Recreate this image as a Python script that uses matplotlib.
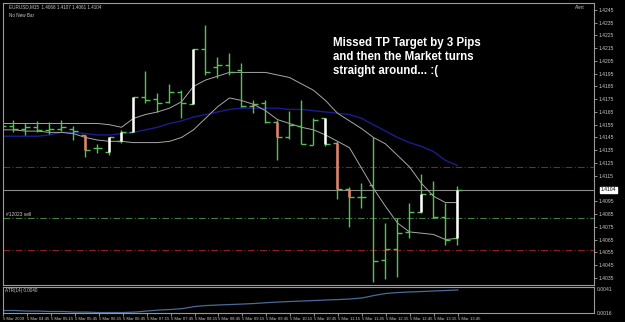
import matplotlib
matplotlib.use("Agg")
import matplotlib.pyplot as plt
import numpy as np

plt.rcParams['font.family'] = ['Liberation Sans', 'DejaVu Sans']

# EURUSD M15, 5 Mar 2009, bars from 04:15 to 13:45
times = ['04:15', '04:30', '04:45', '05:00', '05:15', '05:30', '05:45', '06:00',
         '06:15', '06:30', '06:45', '07:00', '07:15', '07:30', '07:45', '08:00',
         '08:15', '08:30', '08:45', '09:00', '09:15', '09:30', '09:45', '10:00',
         '10:15', '10:30', '10:45', '11:00', '11:15', '11:30', '11:45', '12:00',
         '12:15', '12:30', '12:45', '13:00', '13:15', '13:30', '13:45']

opens = [1.4152, 1.4154, 1.4152, 1.4153, 1.4151, 1.4152, 1.4152, 1.4147, 1.4137, 1.4134,
         1.4142, 1.4149, 1.4177, 1.4175, 1.4173, 1.4181, 1.4171, 1.4214, 1.4200, 1.4202,
         1.4198, 1.4170, 1.4172, 1.4157, 1.4145, 1.4154, 1.4139, 1.4160, 1.4141, 1.4105,
         1.4098, 1.4108, 1.4049, 1.4058, 1.4071, 1.4087, 1.4101, 1.4083, 1.4066]
highs = [1.4159, 1.4159, 1.4156, 1.4158, 1.4157, 1.4159, 1.4154, 1.4147, 1.4140, 1.4145,
         1.4151, 1.4177, 1.4197, 1.4180, 1.4187, 1.4182, 1.4214, 1.4233, 1.4208, 1.4211,
         1.4203, 1.4174, 1.4174, 1.4159, 1.4166, 1.4174, 1.4160, 1.4160, 1.4142, 1.4106,
         1.4109, 1.4145, 1.4078, 1.4082, 1.4094, 1.4116, 1.4111, 1.4094, 1.4107]
lows = [1.4148, 1.4149, 1.4147, 1.4149, 1.4148, 1.4150, 1.4143, 1.4130, 1.4133, 1.4131,
        1.4141, 1.4149, 1.4172, 1.4165, 1.4172, 1.4160, 1.4171, 1.4194, 1.4192, 1.4194,
        1.4169, 1.4164, 1.4156, 1.4127, 1.4144, 1.4140, 1.4139, 1.4138, 1.4097, 1.4075,
        1.4090, 1.4032, 1.4034, 1.4036, 1.4066, 1.4086, 1.4082, 1.4061, 1.4061]
closes = [1.4154, 1.4152, 1.4153, 1.4151, 1.4152, 1.4153, 1.4150, 1.4135, 1.4137, 1.4145,
          1.4149, 1.4177, 1.4174, 1.4172, 1.4181, 1.4172, 1.4214, 1.4196, 1.4202, 1.4196,
          1.4170, 1.4171, 1.4157, 1.4145, 1.4155, 1.4140, 1.4159, 1.4140, 1.4105, 1.4098,
          1.4098, 1.4048, 1.4058, 1.4070, 1.4087, 1.4101, 1.4083, 1.4065, 1.4104]
# highlighted bars: w = white body, r = salmon body, g = plain
marks = list('gggggggrgwwwggggwggggrgrgggwrrgggggwggw')

upper_band = [1.4156, 1.4156, 1.4156, 1.4156, 1.4156, 1.4156, 1.4156, 1.4156, 1.4156, 1.4155,
              1.4153, 1.4160, 1.4163, 1.4165, 1.4168, 1.4173, 1.4185, 1.4190, 1.4193, 1.4196,
              1.4196, 1.4196, 1.4196, 1.4194, 1.4192, 1.4187, 1.4182, 1.4174, 1.4164, 1.4158,
              1.4152, 1.4145, 1.4140, 1.4131, 1.4122, 1.4109, 1.4099, 1.4094, 1.4094]
lower_band = [1.4151, 1.4151, 1.4150, 1.4150, 1.4149, 1.4149, 1.4148, 1.4145, 1.4143, 1.4142,
              1.4142, 1.4141, 1.4141, 1.4141, 1.4142, 1.4145, 1.4151, 1.4160, 1.4169, 1.4176,
              1.4174, 1.4171, 1.4166, 1.4159, 1.4156, 1.4153, 1.4151, 1.4147, 1.4142, 1.4137,
              1.4121, 1.4105, 1.4091, 1.4078, 1.4071, 1.4070, 1.4069, 1.4065, 1.4066]
ma_blue = [1.4146, 1.4146, 1.4146, 1.4146, 1.4147, 1.4149, 1.4149, 1.4148, 1.4147, 1.4147,
           1.4148, 1.4149, 1.4151, 1.4153, 1.4156, 1.4158, 1.4161, 1.4163, 1.4165, 1.4167,
           1.4168, 1.4168, 1.4168, 1.4168, 1.4167, 1.4167, 1.4166, 1.4165, 1.4164, 1.4163,
           1.4160, 1.4155, 1.4150, 1.4145, 1.4141, 1.4138, 1.4134, 1.4127, 1.4123]
atr = [0.00182, 0.00182, 0.00176, 0.00176, 0.00171, 0.00171, 0.00165, 0.00165, 0.00160, 0.00160,
       0.00160, 0.00165, 0.00176, 0.00187, 0.00193, 0.00203, 0.00225, 0.00236, 0.00242, 0.00247,
       0.00252, 0.00258, 0.00267, 0.00274, 0.00280, 0.00285, 0.00290, 0.00296, 0.00301, 0.00307,
       0.00318, 0.00345, 0.00367, 0.00377, 0.00383, 0.00388, 0.00394, 0.00399, 0.00405]

tp_line = 1.4122
sl_line = 1.4057
entry_line = 1.4082
price_now = 1.4104
# the 1.4105 label sits under the current price box, so it is left out
price_ticks = [round(p, 4) for p in np.arange(1.4035, 1.42451, 0.001) if abs(p - 1.4105) > 1e-6]

bg = 'black'
fg = '#c8c8c8'
green = '#55c255'

fig = plt.figure(figsize=(6.25, 3.22), dpi=100, facecolor=bg)
ax = fig.add_axes([3 / 625, 37 / 322, 591 / 625, 282 / 322], facecolor=bg)
ax2 = fig.add_axes([3 / 625, 9 / 322, 591 / 625, 26 / 322], facecolor=bg)

x = np.arange(len(times))

# levels
ax.axhline(tp_line, color='#8c2020', lw=0.8, ls=(0, (6, 2, 1, 2)))
ax.axhline(sl_line, color='#8c2020', lw=0.8, ls=(0, (6, 2, 1, 2)))
ax.axhline(entry_line, color='#3f7f3f', lw=0.8, ls=(0, (6, 2, 1, 2)))
ax.axhline(price_now, color='#8a8a8a', lw=0.8)
ax.text(0.4, entry_line + 0.0001, '#12023 sell', color=fg, fontsize=3.5, va='bottom')

# bands and moving average
ax.plot(x, ma_blue, color='#1c1c90', lw=1.0)
ax.plot(x, upper_band, color='#a8a8a8', lw=0.7)
ax.plot(x, lower_band, color='#a8a8a8', lw=0.7)

# OHLC bars
ax.vlines(x, lows, highs, color=green, lw=1.0)
ax.hlines(opens, x - 0.38, x, color=green, lw=1.0)
ax.hlines(closes, x, x + 0.38, color=green, lw=1.0)
for i, m in enumerate(marks):
    if m == 'w':
        ax.vlines(x[i], opens[i], closes[i], color='white', lw=1.8)
    elif m == 'r':
        ax.vlines(x[i], opens[i], closes[i], color='#e8826c', lw=1.8)

ax.set_xlim(0.125, 49.375)
ax.set_ylim(1.40294, 1.42504)
ax.yaxis.tick_right()
ax.set_yticks(price_ticks)
ax.set_yticklabels(['%.4f' % p for p in price_ticks])
ax.tick_params(axis='y', colors=fg, labelsize=3.6, length=2, width=0.5, pad=1.5)
ax.set_xticks([])
for s in ax.spines.values():
    s.set_color('#9a9a9a')
    s.set_linewidth(0.8)

ax.text(len(times) + 10.95, price_now, '%.4f' % price_now, color='black', fontsize=3.6,
        va='center', ha='left',
        bbox=dict(boxstyle='square,pad=0.15', fc='white', ec='white'), clip_on=False)

ax.text(0.01, 0.995, 'EURUSD,M15  1.4066 1.4107 1.4061 1.4104', transform=ax.transAxes,
        color=fg, fontsize=3.3, va='top', ha='left')
ax.text(0.01, 0.965, 'No New Bar', transform=ax.transAxes,
        color=fg, fontsize=3.3, va='top', ha='left')
ax.text(0.985, 0.993, 'Alert', transform=ax.transAxes,
        color=fg, fontsize=3.3, va='top', ha='right')

ax.text(27.6, 1.4224, 'Missed TP Target by 3 Pips\nand then the Market turns\nstraight around... :(',
        color='white', fontsize=8.3, fontweight='bold', va='top', ha='left', linespacing=1.25)

# ATR sub window
ax2.plot(x, atr, color='#4a6a9a', lw=0.9)
ax2.set_xlim(0.125, 49.375)
ax2.set_ylim(0.00155, 0.00437)
ax2.yaxis.tick_right()
ax2.set_yticks([0.0016, 0.0041])
ax2.set_yticklabels(['0.0016', '0.0041'])
ax2.tick_params(axis='y', colors=fg, labelsize=3.6, length=0, pad=2)
ax2.text(0.004, 0.97, 'ATR(14) 0.0040', transform=ax2.transAxes, color=fg,
         fontsize=3.3, va='top', ha='left')
ax2.set_xticks(x[::2])
labels = ['5 Mar 2009'] + ['5 Mar ' + t for t in times[2::2]]
ax2.set_xticklabels(labels, ha='left')
ax2.tick_params(axis='x', colors=fg, labelsize=3.1, length=2, width=0.5, pad=1)
for s in ax2.spines.values():
    s.set_color('#9a9a9a')
    s.set_linewidth(0.8)

fig.savefig('out.png', dpi=100, facecolor=bg)
